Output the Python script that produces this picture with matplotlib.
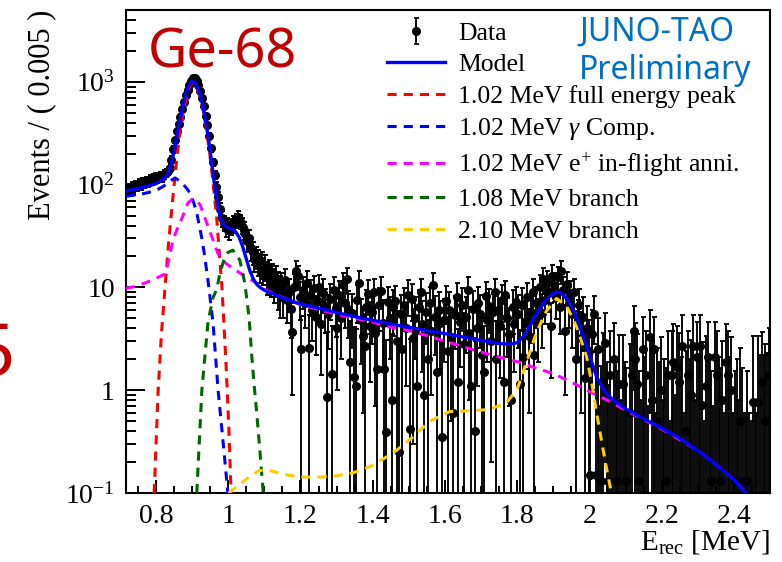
import numpy as np
import matplotlib
matplotlib.use("Agg")
import matplotlib.pyplot as plt
from matplotlib.ticker import FixedLocator, FixedFormatter, LogLocator, NullFormatter, MultipleLocator

# ------------------------------------------------------------------ data
bin_start = 0.715
bin_width = 0.005

counts = [
    # 0.7175 - 0.8375
    88, 92, 90, 95, 93, 98, 96, 102, 100, 105, 103, 108, 106, 112, 110, 115, 118, 114, 120, 122, 119, 126, 130, 135, 145,
    # 0.8425 - 0.9825
    175, 220, 270, 330, 390, 460, 540, 640, 740, 840, 930, 1020, 1100, 1080, 1020, 940, 820, 700, 580, 470, 380, 300,
    225, 165, 125, 95, 75, 58, 47,
    # 0.9875 - 1.1425
    42, 38, 40, 36, 39, 43, 41, 45, 48, 44, 40, 36, 33, 28, 30, 24, 22, 19, 20, 18, 16, 17, 15, 16, 13, 14, 12, 13,
    11, 12, 10, 9,
    # 1.1475 - 1.3925
    10.5, 8.2, 11.8, 7.5, 9.0, 6.2, 3.7, 10.2, 14.5, 12.8,
    8.0, 2.5, 9.4, 7.0, 11.0, 2.6, 8.5, 6.0, 9.8, 5.2,
    7.4, 10.0, 4.4, 8.8, 6.6, 0.85, 5.5, 7.8, 1.45, 9.5,
    6.3, 4.0, 8.4, 5.0, 10.5, 7.0, 12.0, 6.2, 1.9, 5.6,
    1.35, 1.1, 7.5, 11.0, 4.8, 3.4, 2.7, 6.5, 8.6, 4.2,
    # 1.3975 - 1.5925
    5.8, 9.0, 3.6, 1.6, 6.8, 9.3, 4.5, 1.6, 0.39, 7.2,
    5.0, 0.8, 6.4, 7.3, 3.0, 0.25, 5.5, 2.5, 6.8, 4.0,
    8.5, 0.42, 7.8, 3.2, 5.0, 1.1, 6.5, 9.0, 4.4, 0.9,
    5.8, 2.0, 7.0, 3.8, 10.5, 5.2, 1.5, 6.0, 4.5, 0.35,
    # 1.5975 - 1.7925
    4.8, 7.4, 2.4, 6.0, 3.3, 0.6, 5.4, 8.0, 1.2, 4.6,
    6.8, 2.8, 5.2, 9.5, 3.6, 1.1, 6.2, 0.4, 4.0, 7.0,
    5.5, 2.2, 1.5, 8.2, 4.8, 6.6, 3.0, 5.8, 9.0, 2.0,
    6.0, 4.2, 7.6, 1.2, 8.4, 5.0, 3.5, 0.8, 6.5, 4.4,
    # 1.7975 - 2.0175
    7.2, 5.5, 1.15, 6.8, 2.1, 4.5, 8.0, 3.4, 5.8, 9.0,
    2.2, 7.0, 4.8, 10.0, 5.6, 12.0, 7.5, 11.0, 9.0, 4.2,
    13.0, 10.5, 8.0, 12.5, 6.5, 14.5, 9.5, 3.8, 10.8, 7.0,
    8.5, 5.5, 9.0, 2.0, 4.8, 6.8, 3.2, 5.2, 1.3, 4.0,
    2.4, 0.15, 3.5, 5.5, 0.15,
    # 2.0225 - 2.4975
    2.5, -0.3, 0.13, 1.2, 2.9, -0.5, 0.13, 1.4, -0.2, 2.0,
    -0.6, 0.13, 1.15, -0.4, 1.15, -0.8, 0.13, -0.3, 0.6, 1.4,
    3.8, 2.0, 1.15, 0.13, -0.5, 2.5, -0.2, 1.4, -0.7, 3.3,
    0.8, 2.5, -0.4, 0.5, -0.9, 1.0, -0.3, -0.6, 0.13, 1.4,
    -0.5, 1.4, 1.9, -0.2, 1.7, 1.2, -0.6, 2.7, -0.3, 0.4,
    1.4, -0.8, 0.9, 2.7, -0.4, 2.1, -0.2, 2.7, 0.72, -0.5,
    1.1, 2.1, -0.7, 0.13, -0.3, 2.1, 1.4, -0.6, 0.13, 0.81,
    -0.4, 1.9, 1.4, -0.5, 1.0, -0.3, 0.13, -0.8, -0.2, 0.5,
    0.13, -0.6, -0.4, 0.13, -0.9, -0.5, 0.77, -0.3, -0.7, 0.77,
    -0.4, 1.2, -0.6, 0.5, -0.2, 1.4,
]

errors = [
    10, 10, 10, 10, 10, 10, 10, 11, 11, 11, 11, 11, 11, 11, 11, 11, 11, 11, 11, 12, 12, 12, 12, 12, 13,
    14, 15, 17, 18, 20, 22, 23, 25, 27, 29, 31, 32, 33, 33, 32, 31, 29, 27, 24, 22, 20, 18, 15, 13, 12, 10, 9, 8, 8,
    7, 7, 7, 7, 7, 7, 7, 7, 7, 7, 7, 7, 6, 6, 6, 6, 5.5, 5, 5, 5, 5, 5, 4.5, 4.5, 4.5, 4.5, 4, 4, 4, 4, 4, 4,
    3.2, 3.2, 3.3, 3.0, 3.2, 3.0, 2.8, 3.2, 3.4, 3.3,
    3.2, 2.8, 3.2, 3.0, 3.3, 2.8, 3.2, 3.0, 3.2, 3.0,
    3.0, 3.2, 3.0, 3.2, 3.0, 2.8, 3.0, 3.0, 2.8, 3.2,
    3.0, 3.0, 3.2, 3.0, 3.3, 3.0, 3.4, 3.0, 2.8, 3.0,
    2.8, 2.8, 3.0, 3.3, 3.0, 2.8, 2.8, 3.0, 3.2, 3.0,
    3.0, 3.2, 2.9, 2.8, 3.0, 3.2, 3.0, 2.8, 2.7, 3.0,
    3.0, 2.7, 3.0, 3.0, 2.9, 2.7, 3.0, 2.8, 3.0, 2.9,
    3.2, 2.7, 3.1, 2.9, 3.0, 2.7, 3.0, 3.2, 2.9, 2.7,
    3.0, 2.8, 3.0, 2.9, 3.3, 3.0, 2.8, 3.0, 2.9, 2.7,
    2.9, 3.0, 2.8, 3.0, 2.8, 2.7, 2.9, 3.1, 2.7, 2.9,
    3.0, 2.8, 2.9, 3.2, 2.8, 2.7, 3.0, 2.6, 2.9, 3.0,
    2.9, 2.8, 2.7, 3.1, 2.9, 3.0, 2.8, 2.9, 3.2, 2.7,
    3.0, 2.9, 3.0, 2.7, 3.1, 2.9, 2.8, 2.7, 3.0, 2.9,
    3.0, 2.9, 2.7, 3.0, 2.8, 2.9, 3.1, 2.8, 2.9, 3.2,
    2.8, 3.0, 2.9, 3.3, 3.0, 3.4, 3.1, 3.3, 3.2, 2.9,
    3.5, 3.3, 3.1, 3.4, 3.0, 3.6, 3.2, 2.9, 3.3, 3.0,
    3.1, 2.9, 3.1, 2.6, 2.8, 2.9, 2.6, 2.8, 2.4, 2.6,
    2.4, 2.2, 2.5, 2.7, 2.2,
    2.5, 1.0, 1.6, 2.4, 2.7, 2.4, 1.0, 2.4, 1.0, 2.5,
    2.5, 1.4, 2.3, 1.2, 2.3, 2.7, 1.5, 0.9, 2.2, 2.4,
    2.8, 2.5, 2.4, 1.4, 1.3, 2.6, 2.3, 2.4, 1.4, 2.7,
    2.2, 2.6, 1.0, 2.1, 2.8, 2.3, 1.1, 2.6, 1.5, 2.4,
    1.0, 2.4, 2.5, 1.1, 2.5, 2.4, 2.7, 2.7, 0.9, 2.0,
    2.4, 2.8, 2.2, 2.7, 1.2, 2.5, 2.3, 2.7, 2.2, 1.0,
    2.3, 2.5, 2.8, 1.4, 1.0, 2.5, 2.4, 2.7, 1.5, 2.2,
    1.0, 2.5, 2.4, 2.6, 2.3, 0.9, 1.4, 2.8, 1.0, 2.1,
    1.5, 1.2, 1.0, 1.4, 1.5, 1.0, 2.6, 1.0, 1.3, 2.6,
    2.6, 2.5, 2.8, 2.3, 2.5, 2.6,
]

# fit model and components
model_E = [0.717, 0.74, 0.76, 0.78, 0.80, 0.82, 0.83, 0.84, 0.85, 0.86, 0.87, 0.88, 0.89, 0.90, 0.91, 0.92, 0.93,
           0.94, 0.95, 0.96, 0.97, 0.98, 0.99, 1.00, 1.01, 1.02, 1.03, 1.04, 1.05, 1.06, 1.07, 1.08, 1.09, 1.10,
           1.15, 1.20, 1.25, 1.30, 1.35, 1.40, 1.45, 1.50, 1.55, 1.60, 1.65, 1.70, 1.75, 1.78, 1.80, 1.82, 1.84,
           1.86, 1.88, 1.90, 1.91, 1.92, 1.94, 1.96, 1.98, 2.00, 2.02, 2.04, 2.06, 2.10, 2.15, 2.20, 2.25, 2.30,
           2.35, 2.40, 2.44]
model_y = [87, 90, 93, 97, 102, 112, 122, 150, 210, 330, 480, 700, 900, 1020, 960, 800, 590, 370, 215, 112, 64,
           46, 40, 38, 37, 35, 31, 25, 19, 14.5, 12, 10.6, 9.9, 9.4, 7.9, 6.9, 6.3, 5.7, 5.2, 4.8, 4.4, 4.1, 3.8,
           3.55, 3.3, 3.05, 2.85, 2.8, 2.9, 3.4, 4.5, 6.0, 7.6, 8.7, 9.0, 8.9, 7.6, 5.6, 3.6, 2.2, 1.35, 1.0, 0.84,
           0.66, 0.53, 0.43, 0.34, 0.26, 0.19, 0.135, 0.095]

fep_E = [0.795, 0.806, 0.815, 0.825, 0.836, 0.848, 0.857, 0.866, 0.875, 0.885, 0.893, 0.900, 0.907, 0.915, 0.920,
         0.930, 0.940, 0.949, 0.958, 0.968, 0.977, 0.982, 0.988, 0.995, 1.002, 1.008]
fep_y = [0.1, 1.0, 3.5, 10, 30, 83, 170, 316, 500, 716, 900, 980, 940, 830, 760, 540, 340, 200, 105, 48, 18, 11,
         4.5, 1.5, 0.4, 0.1]

comp_E = [0.717, 0.74, 0.76, 0.78, 0.80, 0.82, 0.835, 0.853, 0.87, 0.885, 0.894, 0.905, 0.913, 0.927, 0.935,
          0.945, 0.958, 0.972, 0.988, 0.999]
comp_y = [77, 79, 81, 84, 88, 96, 106, 116, 106, 92, 83, 66, 53, 30, 20, 11, 4.5, 1.0, 0.26, 0.1]

anni_E = [0.717, 0.748, 0.79, 0.825, 0.835, 0.847, 0.86, 0.875, 0.888, 0.90, 0.91, 0.922, 0.941, 0.958, 0.97,
          0.982, 1.00, 1.013, 1.03, 1.051, 1.079, 1.10, 1.15, 1.20, 1.25, 1.30, 1.35, 1.40, 1.45, 1.50, 1.55,
          1.60, 1.65, 1.70, 1.75, 1.80, 1.85, 1.90, 1.95, 2.00, 2.05, 2.10, 2.15, 2.20, 2.25, 2.30, 2.35, 2.40,
          2.44]
anni_y = [9.8, 10.3, 11.8, 13.5, 18, 29, 38, 50, 66, 72, 71, 64, 42, 29, 22, 18.5, 16.5, 15.4, 14, 12.6, 11, 9.6,
          8.0, 6.8, 6.1, 5.5, 5.0, 4.6, 4.1, 3.8, 3.4, 3.0, 2.65, 2.35, 2.1, 1.9, 1.65, 1.45, 1.2, 0.97, 0.8,
          0.64, 0.52, 0.42, 0.33, 0.26, 0.19, 0.135, 0.095]

br108_E = [0.913, 0.927, 0.944, 0.958, 0.968, 0.977, 0.990, 1.000, 1.013, 1.025, 1.032, 1.046, 1.058, 1.065,
           1.072, 1.079, 1.088, 1.097]
br108_y = [0.1, 1.0, 4.6, 8.0, 9.5, 13.7, 19.7, 22, 23, 20, 18.5, 11, 5, 2.2, 1.1, 0.6, 0.25, 0.1]

br210_E = [1.001, 1.03, 1.06, 1.085, 1.107, 1.13, 1.17, 1.21, 1.254, 1.30, 1.345, 1.392, 1.43, 1.466, 1.511,
           1.558, 1.613, 1.669, 1.724, 1.771, 1.80, 1.826, 1.854, 1.881, 1.909, 1.937, 1.964, 1.992, 2.008,
           2.02, 2.035, 2.048, 2.061]
br210_y = [0.1, 0.12, 0.145, 0.165, 0.168, 0.16, 0.148, 0.143, 0.143, 0.147, 0.157, 0.18, 0.215, 0.26, 0.35,
           0.5, 0.62, 0.63, 0.65, 0.76, 1.02, 1.88, 3.7, 5.9, 7.8, 6.6, 4.2, 2.15, 1.1, 0.6, 0.3, 0.17, 0.1]

xticks = [0.8, 1.0, 1.2, 1.4, 1.6, 1.8, 2.0, 2.2, 2.4]
xtick_labels = ["0.8", "1", "1.2", "1.4", "1.6", "1.8", "2", "2.2", "2.4"]
yticks = [0.1, 1, 10, 100, 1000]
ytick_labels = [r"$10^{-1}$", "1", "10", r"$10^{2}$", r"$10^{3}$"]

legend_labels = ["Data", "Model", "1.02 MeV full energy peak", r"1.02 MeV $\gamma$ Comp.",
                 r"1.02 MeV e$^{+}$ in-flight anni.", "1.08 MeV branch", "2.10 MeV branch"]

# ------------------------------------------------------------------ style
plt.rcParams["font.family"] = ["Liberation Serif", "DejaVu Serif"]
plt.rcParams["mathtext.fontset"] = "custom"
plt.rcParams["mathtext.rm"] = "Liberation Serif"
plt.rcParams["mathtext.it"] = "Liberation Serif:italic"
plt.rcParams["mathtext.bf"] = "Liberation Serif:bold"
plt.rcParams["axes.linewidth"] = 1.5

W, H = 782, 562
fig = plt.figure(figsize=(W / 100, H / 100), dpi=100)
ax = fig.add_axes([126 / W, 1 - 493 / H, (770 - 126) / W, (493 - 10) / H])
ax.set_yscale("log")

c = np.array(counts, dtype=float)
e = np.array(errors, dtype=float)
x = bin_start + bin_width * (np.arange(len(c)) + 0.5)
pos = c > 0

eb_kw = dict(ecolor="black", elinewidth=1.35, capsize=1.8, capthick=1.35, zorder=2)
ax.errorbar(x[~pos], c[~pos], yerr=e[~pos], fmt="none", **eb_kw)
data_h = ax.errorbar(x[pos], c[pos], yerr=e[pos], fmt="o", color="black", ms=5.5, **eb_kw)

dash = (0, (3, 2.3))
lw = 2.2
h_model, = ax.plot(model_E, model_y, color="#0000ff", lw=2.4, zorder=5)
h_fep, = ax.plot(fep_E, fep_y, color="#ff0000", lw=lw, ls=dash, zorder=4)
h_comp, = ax.plot(comp_E, comp_y, color="#0000ff", lw=lw, ls=dash, zorder=4)
h_anni, = ax.plot(anni_E, anni_y, color="#ff00ff", lw=lw, ls=dash, zorder=4)
h_108, = ax.plot(br108_E, br108_y, color="#006600", lw=lw, ls=dash, zorder=4)
h_210, = ax.plot(br210_E, br210_y, color="#ffcc00", lw=lw, ls=dash, zorder=4)

ax.set_xlim(0.717, 2.5)
ax.set_ylim(0.1, 5000)

ax.xaxis.set_major_locator(FixedLocator(xticks))
ax.xaxis.set_major_formatter(FixedFormatter(xtick_labels))
ax.xaxis.set_minor_locator(MultipleLocator(0.05))
ax.yaxis.set_major_locator(FixedLocator(yticks))
ax.yaxis.set_major_formatter(FixedFormatter(ytick_labels))
ax.yaxis.set_minor_locator(LogLocator(base=10, subs=np.arange(2, 10)))
ax.yaxis.set_minor_formatter(NullFormatter())

ax.tick_params(axis="x", which="major", direction="in", length=9.4, width=1.4, labelsize=20, pad=8, top=False)
ax.tick_params(axis="x", which="minor", direction="in", length=5, width=1.4, top=False)
ax.tick_params(axis="y", which="major", direction="in", length=13.7, width=1.4, labelsize=20, pad=8, right=False)
ax.tick_params(axis="y", which="minor", direction="in", length=7.5, width=1.4, right=False)

ax.set_ylabel("Events / ( 0.005 )", fontsize=22, loc="top")
ax.yaxis.set_label_coords(-0.108, 1.0)
ax.set_xlabel(r"E$_{\rm rec}$ [MeV]", fontsize=21, loc="right")
ax.xaxis.set_label_coords(1.0, -0.072)

handles = [data_h, h_model, h_fep, h_comp, h_anni, h_108, h_210]
ax.legend(handles, legend_labels, loc="upper left", bbox_to_anchor=(387 / W, 1 - 22 / H),
          bbox_transform=fig.transFigure, frameon=False, fontsize=18.5, handlelength=2.26,
          handletextpad=0.5, labelspacing=0.33, borderpad=0, borderaxespad=0)

fig.text(148 / W, 1 - 67 / H, "Ge-68", color="#c00000", fontsize=39, family="Noto Sans",
         ha="left", va="baseline")
fig.text(579 / W, 1 - 41 / H, "JUNO-TAO", color="#0070c0", fontsize=23, family="Noto Sans",
         ha="left", va="baseline")
fig.text(579 / W, 1 - 79 / H, "Preliminary", color="#0070c0", fontsize=23, family="Noto Sans",
         ha="left", va="baseline")
fig.text(15 / W, 1 - 375 / H, "5", color="#c00000", fontsize=52, family="Noto Sans",
         ha="right", va="baseline")

fig.savefig("out.png", dpi=100)
